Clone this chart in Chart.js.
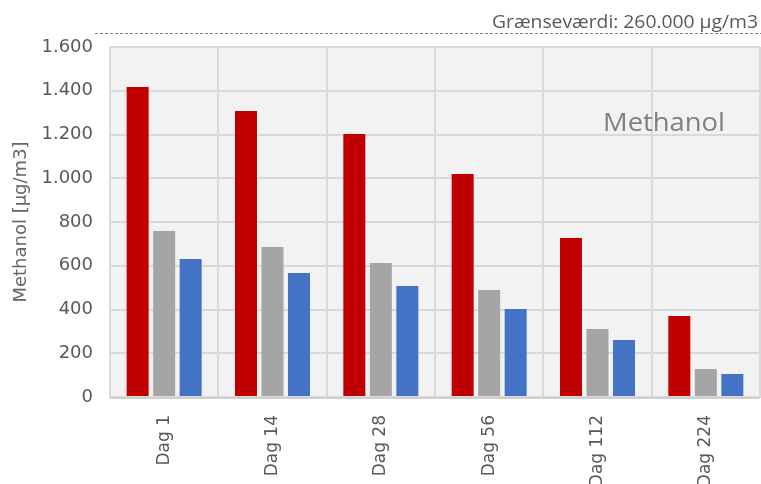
<!DOCTYPE html>
<html><head><meta charset="utf-8">
<script src="https://cdn.jsdelivr.net/npm/chart.js@4"></script>
<style>html,body{margin:0;padding:0;background:#fff}#wrap{width:761px;height:484px}</style>
</head><body><div id="wrap"><canvas id="c" width="761" height="484"></canvas></div>
<script>
const categories = ["Dag 1","Dag 14","Dag 28","Dag 56","Dag 112","Dag 224"];
const seriesRed  = [1417, 1307, 1202, 1019, 727, 370];
const seriesGray = [759, 686, 613, 489, 311, 128];
const seriesBlue = [631, 567, 507, 402, 261, 105];
const yTicks = [0,200,400,600,800,1000,1200,1400,1600];
const headerText = "Grænseværdi: 260.000 µg/m3";
const insideTitle = "Methanol";
const yTitle = "Methanol [µg/m3]";

const fmt = v => v >= 1000 ? Math.floor(v/1000) + "." + String(v%1000).padStart(3,"0") : String(v);

function drawFitted(ctx, text, font, rightX, baseY, targetW) {
  ctx.font = font;
  const w = ctx.measureText(text).width;
  const sx = targetW / w;
  ctx.save();
  ctx.translate(rightX - targetW, baseY);
  ctx.scale(sx, 1);
  ctx.textAlign = 'left'; ctx.textBaseline = 'alphabetic';
  ctx.fillText(text, 0, 0);
  ctx.restore();
}

const bgPlugin = {
  id: 'bg',
  beforeDraw(chart) {
    const {ctx, chartArea: a} = chart;
    ctx.save();
    ctx.fillStyle = '#f2f2f2';
    ctx.fillRect(a.left, a.top, a.right - a.left, a.bottom - a.top);
    ctx.restore();
  },
  afterDraw(chart) {
    const {ctx, chartArea: a} = chart;
    ctx.save();
    ctx.strokeStyle = '#d0d0d0'; ctx.lineWidth = 2;
    ctx.beginPath(); ctx.moveTo(a.left, a.bottom + 1); ctx.lineTo(a.right, a.bottom + 1); ctx.stroke();
    ctx.strokeStyle = '#7f7f7f'; ctx.lineWidth = 1; ctx.setLineDash([3,2]);
    ctx.beginPath(); ctx.moveTo(95, 33.5); ctx.lineTo(761, 33.5); ctx.stroke();
    ctx.setLineDash([]);
    ctx.fillStyle = '#595959';
    drawFitted(ctx, headerText, '18px "Open Sans"', 758, 28, 266);
    ctx.fillStyle = '#808080';
    drawFitted(ctx, insideTitle, '25px "Open Sans"', 725, 131, 122);
    ctx.restore();
  }
};

new Chart(document.getElementById('c'), {
  type: 'bar',
  data: {
    labels: categories,
    datasets: [
      {data: seriesRed, backgroundColor: '#c00000', borderWidth: 0},
      {data: seriesGray, backgroundColor: '#a5a5a5', borderWidth: 0},
      {data: seriesBlue, backgroundColor: '#4472c4', borderWidth: 0}
    ]
  },
  options: {
    responsive: false, animation: false,
    layout: {padding: {top: 47, right: 1, left: 0, bottom: 0}},
    plugins: {legend: {display: false}, tooltip: {enabled: false}},
    datasets: {bar: {categoryPercentage: 0.734, barPercentage: 0.83}},
    scales: {
      x: {
        grid: {color: '#d9d9d9', lineWidth: 2, drawTicks: false, offset: true},
        border: {color: '#d9d9d9', width: 2},
        ticks: {color: '#595959', font: {family: 'DejaVu Sans', size: 17}, minRotation: 90, maxRotation: 90, padding: 18},
        afterFit(s) { s.height = 87; }
      },
      y: {
        min: 0, max: 1600,
        afterBuildTicks(s) { s.ticks = yTicks.map(v => ({value: v})); },
        grid: {color: '#d9d9d9', lineWidth: 2, drawTicks: false},
        border: {display: false},
        ticks: {color: '#595959', font: {family: 'DejaVu Sans', size: 18}, padding: 17, callback: v => fmt(v)},
        title: {display: true, text: yTitle, color: '#666666', font: {family: 'DejaVu Sans', size: 18}, padding: {top: 11, bottom: 0}},
        afterFit(s) { s.width = 110; }
      }
    }
  },
  plugins: [bgPlugin]
});
</script>
</body></html>
